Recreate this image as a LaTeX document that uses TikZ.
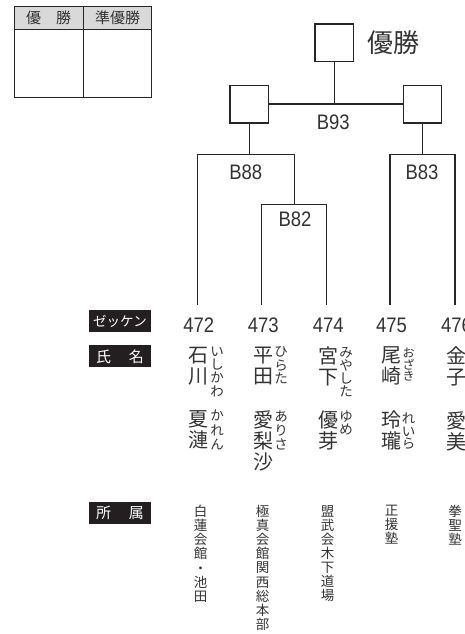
\documentclass[tikz,border=0pt]{standalone}
\usepackage{fontspec}
\setmainfont{Noto Sans CJK JP}
\newfontfamily\numfont[FakeStretch=0.88]{Liberation Sans}
\definecolor{ink}{HTML}{333333}
\definecolor{linec}{HTML}{262626}
\definecolor{lblfill}{HTML}{231F20}
\definecolor{hdrgray}{HTML}{D9D9D9}
\tikzset{
  sqbox/.style={draw=linec, line width=1.3pt, fill=white, minimum width=38.3pt, minimum height=37.7pt, inner sep=0pt},
  brk/.style={draw=linec, line width=1.3pt},
  blabel/.style={font=\numfont\fontsize{21}{21}\selectfont, text=ink, inner sep=0pt},
  numlbl/.style={font=\numfont\fontsize{21}{21}\selectfont, text=ink, inner sep=0pt},
  rowlbl/.style={fill=lblfill, text=white, minimum width=61.4pt, minimum height=22pt, inner sep=0pt},
  kanji/.style={anchor=north, align=center, inner sep=0pt, text=ink, font=\fontsize{20}{21}\selectfont},
  ruby/.style={anchor=north, align=center, inner sep=0pt, text=ink, font=\fontsize{13.5}{#1}\selectfont},
  aff/.style={anchor=north, align=center, inner sep=0pt, text=ink, font=\fontsize{13.5}{14.1}\selectfont},
  tblline/.style={draw=linec, line width=0.8pt},
}
\begin{document}
\begin{tikzpicture}[x=1pt,y=-1pt]
\clip (0,0) rectangle (465,634);
\fill[white] (0,0) rectangle (465,634);

% result table
\fill[hdrgray] (14,6) rectangle (151.7,29.3);
\draw[tblline] (14,6) rectangle (151.7,97.3);
\draw[tblline] (14,29.3) -- (151.7,29.3);
\draw[tblline] (83.3,6) -- (83.3,97.3);
\node[inner sep=0pt, text=ink, font=\fontsize{15}{15}\selectfont] (tw) at (48.7,17.7) {優　勝};
\node[inner sep=0pt, text=ink, font=\fontsize{15}{15}\selectfont] (tr) at (117.5,17.7) {準優勝};

% bracket boxes
\node[sqbox] (final) at (334.2,43) {};
\node[inner sep=0pt, text=ink, anchor=west, font=\fontsize{26}{26}\selectfont] (winlbl) at (367,43) {優勝};
\node[sqbox] (lsemi) at (249.2,104) {};
\node[sqbox] (rsemi) at (422.5,104) {};

% line end coordinates
\coordinate (e472) at (197.3,305);
\coordinate (e473) at (261.7,305);
\coordinate (e474) at (326.7,305);
\coordinate (e475) at (390,305);
\coordinate (e476) at (455,305);
\coordinate (j88) at (249.2,154.3);
\coordinate (j82) at (294.3,204.3);
\coordinate (j83) at (422.5,154.3);

\draw[brk] (lsemi) -- (rsemi);
\draw[brk] (final.south) -- (final.south |- lsemi.center);
\draw[brk] (lsemi.south) -- (j88);
\draw[brk] (rsemi.south) -- (j83);
\draw[brk] (e472) |- (j88) -| (j82);
\draw[brk] (e473) |- (j82) -| (e474);
\draw[brk] (e475) |- (j83) -| (e476);

\node[blabel] (b93) at (333.3,122.7) {B93};
\node[blabel] (b88) at (245.8,172) {B88};
\node[blabel] (b82) at (295,219.5) {B82};
\node[blabel] (b83) at (422,172) {B83};

% row labels
\node[rowlbl, font=\fontsize{13.5}{13.5}\selectfont] (lzek) at (120,321.2) {ゼッケン};
\node[rowlbl, font=\fontsize{15}{15}\selectfont] (lname) at (120,356.3) {氏\hspace{1.2em}名};
\node[rowlbl, font=\fontsize{15}{15}\selectfont] (laff) at (120,513.3) {所\hspace{1.2em}属};

% numbers
\node[numlbl] (n472) at (198.8,325) {472};
\node[numlbl] (n473) at (263.2,325) {473};
\node[numlbl] (n474) at (328.2,325) {474};
\node[numlbl] (n475) at (391.5,325) {475};
\node[numlbl] (n476) at (456.5,325) {476};

% names
\node[kanji] (f472) at (198.8,346.7) {石\\川};
\node[ruby=13.3] (rf472) at (217,346.7) {い\\し\\か\\わ};
\node[kanji] (g472) at (198.8,410) {夏\\漣};
\node[ruby=14.5] (rg472) at (217,410) {か\\れ\\ん};

\node[kanji] (f473) at (263.2,346.7) {平\\田};
\node[ruby=13.3] (rf473) at (281.2,346.7) {ひ\\ら\\た};
\node[kanji] (g473) at (263.2,410) {愛\\梨\\沙};
\node[ruby=14] (rg473) at (281.2,411) {あ\\り\\さ};

\node[kanji] (f474) at (328.2,346.7) {宮\\下};
\node[ruby=13.3] (rf474) at (346.2,346.7) {み\\や\\し\\た};
\node[kanji] (g474) at (328.2,411) {優\\芽};
\node[ruby=12.3] (rg474) at (346.2,411) {ゆ\\め};

\node[kanji] (f475) at (391.5,346.7) {尾\\崎};
\node[ruby=10.5, font=\fontsize{12}{10.5}\selectfont] (rf475) at (408.5,348) {お\\ざ\\き};
\node[kanji] (g475) at (391.5,411) {玲\\瓏};
\node[ruby=12.5] (rg475) at (408.5,412.7) {れ\\い\\ら};

\node[kanji] (f476) at (456.5,346.7) {金\\子};
\node[kanji] (g476) at (456.5,411) {愛\\美};

% affiliations
\node[aff] (a472) at (200.5,505) {白\\蓮\\会\\館\\・\\池\\田};
\node[aff] (a473) at (262.5,505) {極\\真\\会\\館\\関\\西\\総\\本\\部};
\node[aff] (a474) at (327.5,505) {盟\\武\\会\\木\\下\\道\\場};
\node[aff] (a475) at (391.7,505) {正\\援\\塾};
\node[aff] (a476) at (455,505) {拳\\聖\\塾};
\end{tikzpicture}
\end{document}
